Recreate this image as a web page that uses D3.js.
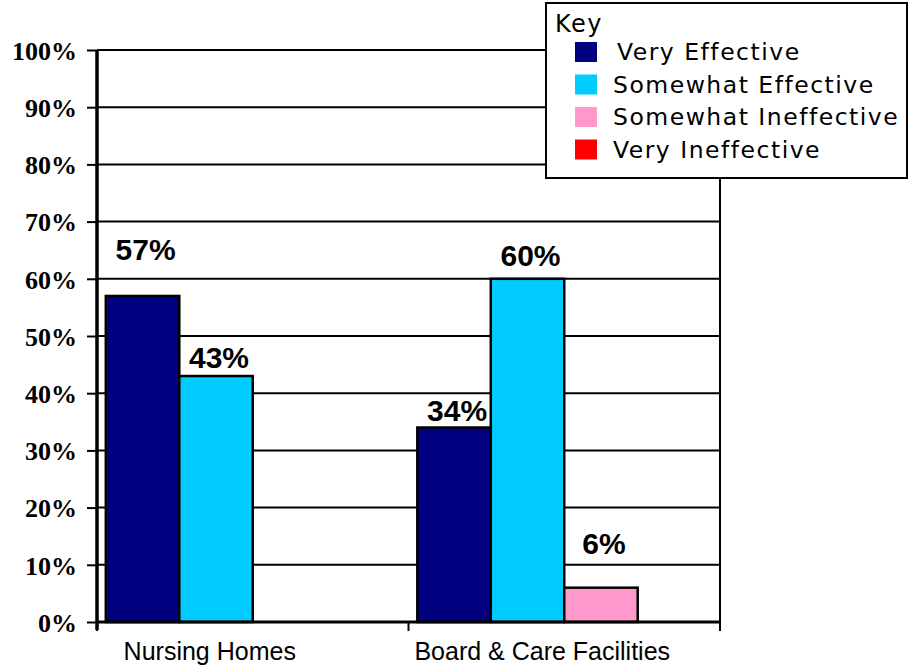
<!DOCTYPE html>
<html>
<head>
<meta charset="utf-8">
<script src="https://cdn.jsdelivr.net/npm/d3@7"></script>
<style>
  body { margin: 0; background: #fff; }
  svg { display: block; }
</style>
</head>
<body>
<div id="container"></div>
<script>
'use strict';
(function() {
    // data
    var categories = ['Nursing Homes', 'Board & Care Facilities'];
    var seriesNames = ['Very Effective', 'Somewhat Effective', 'Somewhat Ineffective', 'Very Ineffective'];
    var veryEffective = [57, 34];
    var somewhatEffective = [43, 60];
    var somewhatIneffective = [0, 6];
    var veryIneffective = [0, 0];
    var yTicks = [0, 10, 20, 30, 40, 50, 60, 70, 80, 90, 100];

    var colors = ['#000080', '#00CCFF', '#FF99CC', '#FF0000'];

    // labels in the original float at odd heights above the bars
    var labelLift = [[36, 8, 0, 0], [7, 13, 34, 0]];
    var catLabelShift = [-43, -22];

    var width = 911, height = 668;
    var left = 97, right = 720, top = 50, bottom = 622;

    var svg = d3.select('#container').append('svg')
        .attr('width', width)
        .attr('height', height);

    var table = categories.map(function(c, i) {
        return {
            name: c,
            values: [veryEffective[i], somewhatEffective[i], somewhatIneffective[i], veryIneffective[i]]
        };
    });

    var y = d3.scaleLinear().domain([0, 100]).range([bottom, top]);
    var x0 = d3.scaleBand().domain(categories).range([left, right]).padding(0);
    var x1 = d3.scaleBand().domain(seriesNames).range([0, x0.bandwidth()])
        .paddingInner(0).paddingOuter(0.12);

    // gridlines
    svg.append('g')
        .selectAll('line')
        .data(yTicks.filter(function(t) { return t > 0; }))
        .enter().append('line')
        .attr('x1', left).attr('x2', right)
        .attr('y1', function(d) { return y(d); })
        .attr('y2', function(d) { return y(d); })
        .attr('stroke', '#000')
        .attr('stroke-width', 2);

    // right border of plot
    svg.append('line')
        .attr('x1', right).attr('x2', right)
        .attr('y1', top).attr('y2', bottom)
        .attr('stroke', '#000').attr('stroke-width', 2);

    // bars
    var groups = svg.selectAll('.grp')
        .data(table)
        .enter().append('g')
        .attr('class', 'grp')
        .attr('transform', function(d) { return 'translate(' + x0(d.name) + ',0)'; });

    groups.selectAll('rect')
        .data(function(d) { return d.values.map(function(v, j) { return {s: seriesNames[j], v: v, j: j}; }); })
        .enter().filter(function(d) { return d.v > 0; })
        .append('rect')
        .attr('x', function(d) { return x1(d.s); })
        .attr('y', function(d) { return y(d.v); })
        .attr('width', x1.bandwidth())
        .attr('height', function(d) { return y(0) - y(d.v); })
        .attr('fill', function(d) { return colors[d.j]; })
        .attr('stroke', '#000')
        .attr('stroke-width', 2.5);

    // value labels
    groups.each(function(g, i) {
        d3.select(this).selectAll('text.val')
            .data(g.values.map(function(v, j) { return {s: seriesNames[j], v: v, j: j}; })
                .filter(function(d) { return d.v > 0; }))
            .enter().append('text')
            .attr('class', 'val')
            .attr('x', function(d) { return x1(d.s) + x1.bandwidth() / 2 + 3; })
            .attr('y', function(d) { return y(d.v) - labelLift[i][d.j]; })
            .attr('text-anchor', 'middle')
            .style('font-family', '"Liberation Sans", Arial, sans-serif')
            .style('font-weight', 'bold')
            .style('font-size', '30px')
            .text(function(d) { return d.v + '%'; });
    });

    // y axis
    var yAxis = d3.axisLeft(y)
        .tickValues(yTicks)
        .tickSize(10)
        .tickFormat(function(d) { return d + '%'; });
    var ya = svg.append('g')
        .attr('transform', 'translate(' + left + ',0)')
        .call(yAxis);
    ya.select('.domain').remove();
    ya.selectAll('.tick line').attr('stroke', '#000').attr('stroke-width', 2);
    ya.selectAll('.tick text')
        .attr('x', -20)
        .attr('dy', '0.36em')
        .style('font-family', '"Liberation Serif", "Times New Roman", serif')
        .style('font-weight', 'bold')
        .style('font-size', '26px')
        .attr('fill', '#000');

    svg.append('line')
        .attr('x1', left).attr('x2', left)
        .attr('y1', top).attr('y2', bottom + 8)
        .attr('stroke', '#000').attr('stroke-width', 3.5);

    // x axis
    svg.append('line')
        .attr('x1', left).attr('x2', right)
        .attr('y1', bottom).attr('y2', bottom)
        .attr('stroke', '#000').attr('stroke-width', 3);

    var xTickPos = categories.map(function(c) { return x0(c); }).concat([right]);
    svg.append('g').selectAll('line')
        .data(xTickPos)
        .enter().append('line')
        .attr('x1', function(d) { return d; }).attr('x2', function(d) { return d; })
        .attr('y1', bottom).attr('y2', bottom + 9)
        .attr('stroke', '#000').attr('stroke-width', 2);

    svg.append('g').selectAll('text')
        .data(categories)
        .enter().append('text')
        .attr('x', function(d, i) { return x0(d) + x0.bandwidth() / 2 + catLabelShift[i]; })
        .attr('y', 660)
        .attr('text-anchor', 'middle')
        .style('font-family', '"Liberation Sans", Arial, sans-serif')
        .style('font-size', '25px')
        .text(function(d) { return d; });

    // legend
    var legend = svg.append('g').attr('transform', 'translate(546,3)');
    legend.append('rect')
        .attr('width', 361).attr('height', 175)
        .attr('fill', '#fff')
        .attr('stroke', '#000')
        .attr('stroke-width', 2);
    legend.append('text')
        .attr('x', 9).attr('y', 29)
        .style('font-family', '"DejaVu Sans", Verdana, sans-serif')
        .style('font-size', '24px')
        .style('letter-spacing', '1.5px')
        .text('Key');

    var items = legend.selectAll('.item')
        .data(seriesNames)
        .enter().append('g')
        .attr('class', 'item')
        .attr('transform', function(d, i) { return 'translate(0,' + (49 + i * 32.5) + ')'; });
    items.append('rect')
        .attr('x', 29).attr('y', -10)
        .attr('width', 22).attr('height', 20)
        .attr('fill', function(d, i) { return colors[i]; });
    items.append('text')
        .attr('x', function(d, i) { return i === 0 ? 71 : 67; })
        .attr('y', 8)
        .style('font-family', '"DejaVu Sans", Verdana, sans-serif')
        .style('font-size', '23.5px')
        .style('letter-spacing', '1.5px')
        .text(function(d) { return d; });
})();
</script>
</body>
</html>
